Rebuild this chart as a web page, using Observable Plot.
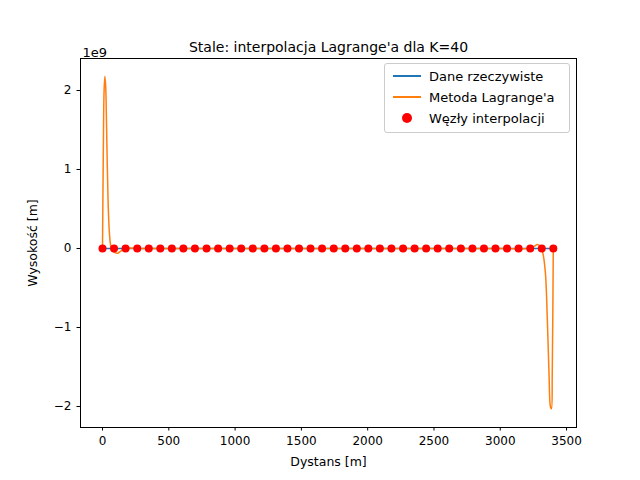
<!DOCTYPE html>
<html><head><meta charset="utf-8">
<script src="https://cdn.jsdelivr.net/npm/d3@7"></script>
<script src="https://cdn.jsdelivr.net/npm/@observablehq/plot@0.6"></script>
<style>
body{margin:0;background:#fff;font-family:"DejaVu Sans",sans-serif}
#wrap{position:relative;width:640px;height:480px}
#legend{position:absolute;left:384px;top:63px;width:184px;height:68px;border:1px solid #ccc;border-radius:3px;background:rgba(255,255,255,0.8);font-size:13px}
.row{position:absolute;left:8px;height:18px;display:flex;align-items:center}
.row span.k{display:inline-block;width:28px;margin-right:8px}
g[aria-label="x-axis label"] text, g[aria-label="y-axis label"] text{font-size:12.5px}
</style></head><body>
<div id="wrap"><div id="chart"></div>
<div id="legend">
<div class="row" style="top:3px"><span class="k" style="border-top:2px solid #1f77b4"></span>Dane rzeczywiste</div>
<div class="row" style="top:24px"><span class="k" style="border-top:2px solid #ff7f0e"></span>Metoda Lagrange'a</div>
<div class="row" style="top:45px"><span class="k" style="text-align:center"><span style="display:inline-block;width:10px;height:10px;border-radius:50%;background:red"></span></span>Węzły interpolacji</div>
</div></div>
<script>
const nodeX = [0,87,174,262,349,436,523,610,697,785,872,959,1046,1133,1221,1308,1395,1482,1569,1656,1744,1831,1918,2005,2092,2179,2267,2354,2441,2528,2615,2703,2790,2877,2964,3051,3138,3226,3313,3400];
const nodeY = nodeX.map(()=>0);
const realX = [0,500,1000,1500,2000,2500,3000,3400];
const realY = [0,0,0,0,0,0,0,0];
const lagX = [0,6,12,18,24,30,36,42,50,58,66,75,90,115,140,170,300,1000,2000,3000,3200,3250,3280,3300,3320,3340,3355,3368,3378,3386,3392,3396,3400];
const lagY = [0,1.2,2.0,2.18,2.05,1.6,1.05,0.6,0.25,0.08,0.0,-0.03,-0.05,-0.06,-0.03,0,0,0,0,0,0,0.02,0.05,0.03,-0.05,-0.3,-0.9,-1.6,-2.0,-2.03,-1.6,-0.9,0];
const real = realX.map((x,i)=>({x,y:realY[i]}));
const lag = lagX.map((x,i)=>({x,y:lagY[i]}));
const nodes = nodeX.map((x,i)=>({x,y:nodeY[i]}));
const chart = Plot.plot({
  width:640,height:480,marginLeft:80,marginRight:64,marginTop:58,marginBottom:53,
  style:{fontFamily:"DejaVu Sans",fontSize:"12px",color:"#000"},
  x:{domain:[-166,3575],ticks:[0,500,1000,1500,2000,2500,3000,3500],tickFormat:d3.format("d"),label:"Dystans [m]",labelAnchor:"center",labelArrow:"none",labelOffset:38,tickSize:3.5},
  y:{domain:[-2.266,2.405],ticks:[-2,-1,0,1,2],tickFormat:d=>d<0?"−"+Math.abs(d):String(d),label:"Wysokość [m]",labelAnchor:"center",labelArrow:"none",labelOffset:52,tickSize:3.5},
  marks:[
    Plot.frame({stroke:"#000"}),
    Plot.line(real,{x:"x",y:"y",stroke:"#1f77b4",strokeWidth:1.5}),
    Plot.line(lag,{x:"x",y:"y",stroke:"#ff7f0e",strokeWidth:1.5,curve:"catmull-rom"}),
    Plot.dot(nodes,{x:"x",y:"y",r:4,fill:"red"}),
    Plot.text(["Stale: interpolacja Lagrange'a dla K=40"],{frameAnchor:"top",dy:-16,fontSize:14,fill:"#000"}),
    Plot.text(["1e9"],{frameAnchor:"top-left",dy:-11,dx:2,fontSize:13,fill:"#000"})
  ]
});
document.getElementById("chart").appendChild(chart);
</script></body></html>
